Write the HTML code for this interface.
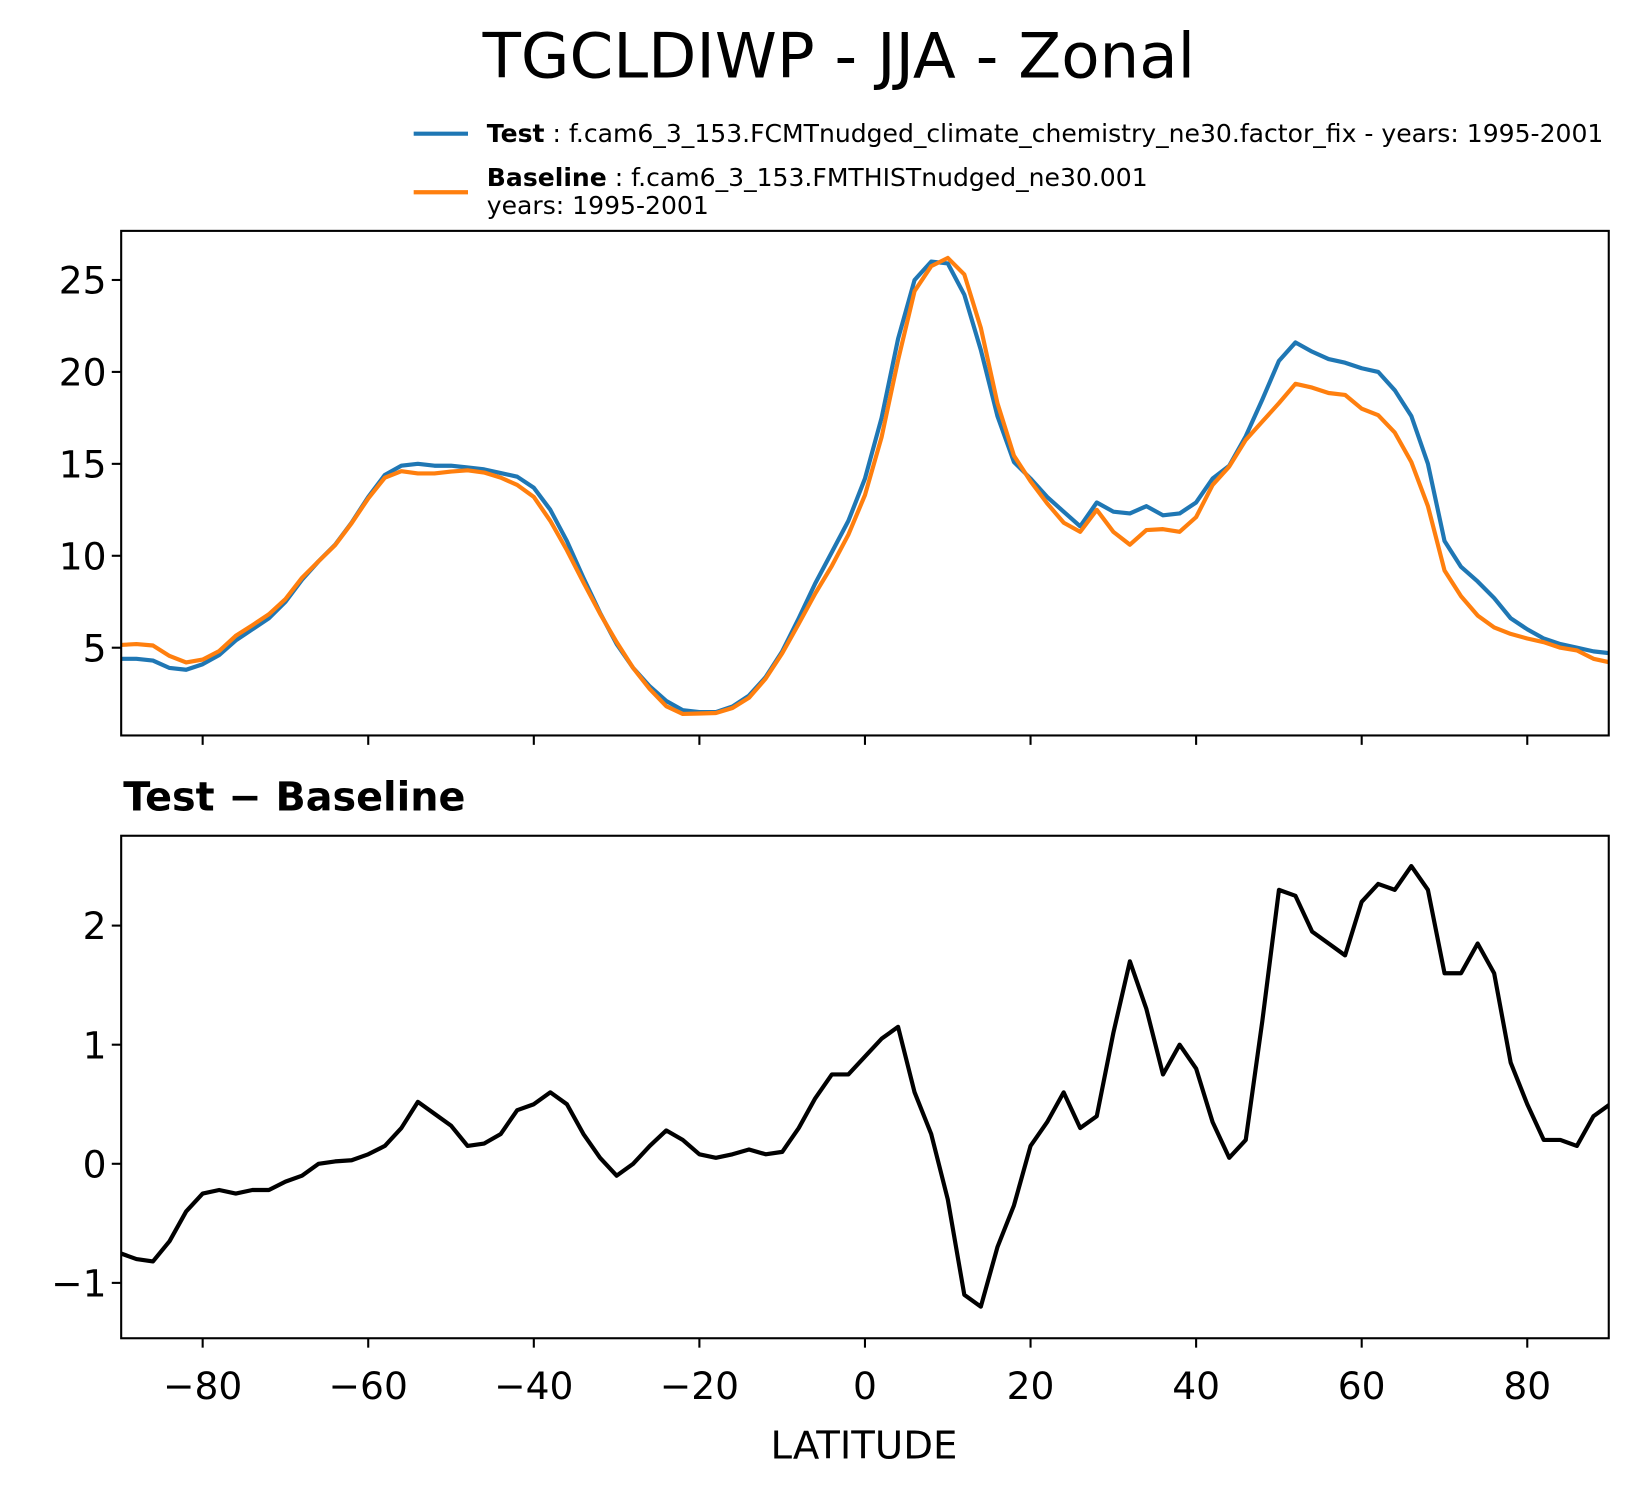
<!DOCTYPE html>
<html><head><meta charset="utf-8"><style>
html,body{margin:0;padding:0;background:#fff;}
svg{display:block;font-family:"DejaVu Sans","Liberation Sans",sans-serif;}
</style></head><body>
<svg id="chart" width="1638" height="1496" viewBox="0 0 1568 1432" preserveAspectRatio="none">
<text x="803" y="74" font-size="60" text-anchor="middle">TGCLDIWP - JJA - Zonal</text>
<g>
<line x1="396" y1="128" x2="448" y2="128" stroke="#1f77b4" stroke-width="4"/>
<text x="466" y="136" font-size="24"><tspan font-weight="bold">Test</tspan> : f.cam6_3_153.FCMTnudged_climate_chemistry_ne30.factor_fix - years: 1995-2001</text>
<line x1="396" y1="184" x2="448" y2="184" stroke="#ff7f0e" stroke-width="4"/>
<text x="466" y="178" font-size="24"><tspan font-weight="bold">Baseline</tspan> : f.cam6_3_153.FMTHISTnudged_ne30.001</text>
<text x="466" y="205" font-size="24">years: 1995-2001</text>
</g>
<text x="118" y="776" font-size="38" font-weight="bold">Test − Baseline</text>
<text x="827" y="1396" font-size="37" text-anchor="middle">LATITUDE</text>
<g id="g"></g>
</svg>
<script>
const lats = [];
for (let v = -90; v <= 90; v += 2) lats.push(v);
const testVals = [4.4,4.4,4.3,3.9,3.8,4.1,4.6,5.4,6.0,6.6,7.5,8.7,9.7,10.6,11.8,13.2,14.4,14.9,15.0,14.9,14.9,14.8,14.7,14.5,14.3,13.7,12.5,10.8,8.8,6.9,5.2,3.9,2.9,2.1,1.6,1.5,1.5,1.8,2.4,3.4,4.8,6.6,8.5,10.2,11.9,14.2,17.5,21.8,25.0,26.0,25.9,24.2,21.2,17.6,15.1,14.2,13.2,12.4,11.6,12.9,12.4,12.3,12.7,12.2,12.3,12.9,14.2,14.9,16.5,18.5,20.6,21.6,21.1,20.7,20.5,20.2,20.0,19.0,17.6,15.0,10.8,9.4,8.6,7.7,6.6,6.0,5.5,5.2,5.0,4.8,4.7];
const baseVals = [5.15,5.2,5.12,4.55,4.2,4.35,4.82,5.65,6.22,6.82,7.65,8.8,9.7,10.58,11.77,13.12,14.25,14.6,14.48,14.48,14.58,14.65,14.53,14.25,13.85,13.2,11.9,10.3,8.55,6.85,5.3,3.9,2.75,1.82,1.4,1.42,1.45,1.72,2.28,3.32,4.7,6.3,7.95,9.45,11.15,13.3,16.45,20.65,24.4,25.75,26.2,25.3,22.4,18.3,15.45,14.05,12.85,11.8,11.3,12.5,11.3,10.6,11.4,11.45,11.3,12.1,13.85,14.85,16.3,17.3,18.3,19.35,19.15,18.85,18.75,18.0,17.65,16.7,15.1,12.7,9.2,7.8,6.75,6.1,5.75,5.5,5.3,5.0,4.85,4.4,4.2];
const diffVals = [-0.75,-0.8,-0.82,-0.65,-0.4,-0.25,-0.22,-0.25,-0.22,-0.22,-0.15,-0.1,0.0,0.02,0.03,0.08,0.15,0.3,0.52,0.42,0.32,0.15,0.17,0.25,0.45,0.5,0.6,0.5,0.25,0.05,-0.1,0.0,0.15,0.28,0.2,0.08,0.05,0.08,0.12,0.08,0.1,0.3,0.55,0.75,0.75,0.9,1.05,1.15,0.6,0.25,-0.3,-1.1,-1.2,-0.7,-0.35,0.15,0.35,0.6,0.3,0.4,1.1,1.7,1.3,0.75,1.0,0.8,0.35,0.05,0.2,1.2,2.3,2.25,1.95,1.85,1.75,2.2,2.35,2.3,2.5,2.3,1.6,1.6,1.85,1.6,0.85,0.5,0.2,0.2,0.15,0.4,0.5];
const xTicks = [-80,-60,-40,-20,0,20,40,60,80];
const topTicks = [5,10,15,20,25];
const botTicks = [-1,0,1,2];

const NS = "http://www.w3.org/2000/svg";
const g = document.getElementById('g');
const L = 116, R = 1540;
const xs = v => 194 + (v + 80) * (1268 / 160);
const yTop = v => 708 - v * 17.6;
const yBot = v => 1114 - v * 114;
function mk(tag, attrs, parent) {
  const e = document.createElementNS(NS, tag);
  for (const k in attrs) e.setAttribute(k, attrs[k]);
  (parent || g).appendChild(e);
  return e;
}
function axes(top, bot, ticks, ys, showX, name) {
  const clip = mk('clipPath', {id: 'c' + name});
  mk('rect', {x: L, y: top, width: R - L, height: bot - top}, clip);
  const grp = mk('g', {'clip-path': 'url(#c' + name + ')'});
  
  
  ticks.forEach(t => {
    const y = ys(t);
    mk('line', {x1: L - 9, y1: y, x2: L, y2: y, stroke: '#000', 'stroke-width': 2});
    const tx = mk('text', {x: L - 14, y: y + 13, 'font-size': 36, 'text-anchor': 'end'});
    tx.textContent = t < 0 ? '\u2212' + Math.abs(t) : String(t);
    
    
  });
  xTicks.forEach(t => {
    const x = xs(t);
    mk('line', {x1: x, y1: bot, x2: x, y2: bot + 9, stroke: '#000', 'stroke-width': 2});
    if (showX) {
      const tx = mk('text', {x: x, y: bot + 58, 'font-size': 36, 'text-anchor': 'middle'});
      tx.textContent = t < 0 ? '\u2212' + Math.abs(t) : String(t);
      
      
    }
  });
  return grp;
}
function lineIn(parent, vals, ys, color, name) {
  const d = vals.map((v, i) => (i ? 'L' : 'M') + xs(lats[i]).toFixed(1) + ',' + ys(v).toFixed(1)).join('');
  const p = mk('path', {d: d, fill: 'none', stroke: color, 'stroke-width': 4, 'stroke-linejoin': 'round'}, parent);
  
  
}
const grp = axes(221, 704, topTicks, yTop, false, 'top');
lineIn(grp, testVals, yTop, '#1f77b4', 'test-line');
lineIn(grp, baseVals, yTop, '#ff7f0e', 'baseline-line');
const f1 = mk('rect', {x: L, y: 221, width: R - L, height: 483, fill: 'none', stroke: '#000', 'stroke-width': 2});


const grp2 = axes(800, 1281, botTicks, yBot, true, 'bottom');
lineIn(grp2, diffVals, yBot, '#000', 'difference-line');
const f2 = mk('rect', {x: L, y: 800, width: R - L, height: 481, fill: 'none', stroke: '#000', 'stroke-width': 2});


</script>
</body></html>
